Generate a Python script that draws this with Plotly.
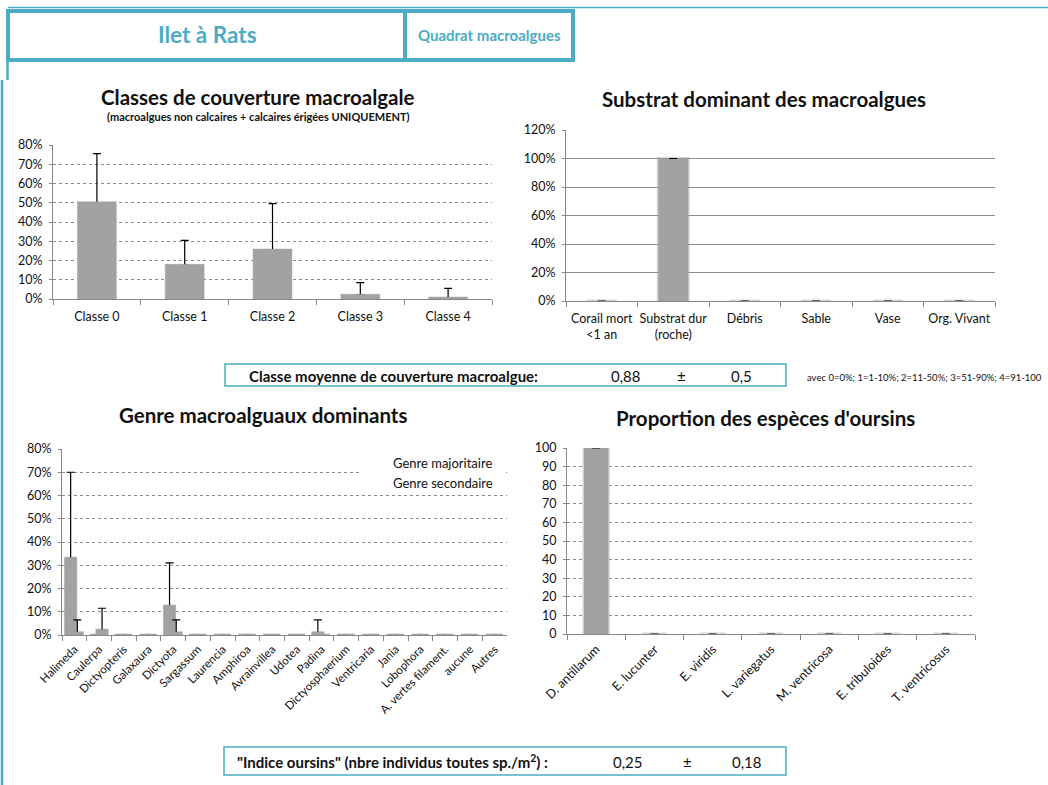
import plotly.graph_objects as go

W, H = 1048, 785

# ---------------- data ----------------
classes = ["Classe 0", "Classe 1", "Classe 2", "Classe 3", "Classe 4"]
classes_pct = [50, 17.5, 25.5, 2, 0.5]
classes_err = [25.5, 13, 24, 6.5, 5]

substrats = ["Corail mort<br>&lt;1 an", "Substrat dur<br>(roche)", "Débris", "Sable", "Vase", "Org. Vivant"]
substrats_pct = [0, 100, 0, 0, 0, 0]
substrats_err = [None, 0, None, None, None, None]

genres = ["Halimeda", "Caulerpa", "Dictyopteris", "Galaxaura", "Dictyota", "Sargassum",
          "Laurencia", "Amphiroa", "Avrainvillea", "Udotea", "Padina", "Dictyosphaerium",
          "Ventricaria", "Jania", "Lobophora", "A. vertes filament.", "aucune", "Autres"]
genre_major = [33, 0, 0, 0, 12.5, 0, 0, 0, 0, 0, 1, 0, 0, 0, 0, 0, 0, 0]
genre_major_err = [37, None, None, None, 18.5, None, None, None, None, None, 5.5,
                   None, None, None, None, None, None, None]
genre_second = [1, 2, 0, 0, 1, 0, 0, 0, 0, 0, 0, 0, 0, 0, 0, 0, 0, 0]
genre_second_err = [5.5, 9.5, None, None, 5.5, None, None, None, None, None, None,
                    None, None, None, None, None, None, None]

oursins = ["D. antillarum", "E. lucunter", "E. viridis", "L. variegatus",
           "M. ventricosa", "E. tribuloides", "T. ventricosus"]
oursins_pct = [100, 0, 0, 0, 0, 0, 0]
oursins_err = [0, None, None, None, None, None, None]

classe_moy, classe_moy_sd = "0,88", "0,5"
indice_oursins, indice_oursins_sd = "0,25", "0,18"

# ---------------- style ----------------
FONT = "Lato, 'Open Sans', sans-serif"
TEAL = "#4bacc6"
BAR = "#a2a2a2"
BAR_EDGE = "rgba(162,162,162,0.45)"
AXIS = "#878787"
GRID = "#8c8c8c"


def px(x):
    return x / W


def py(y):
    return 1 - y / H


def err(values):
    if values is None:
        return dict(visible=False)
    return dict(type="data", symmetric=False, array=values,
                arrayminus=[0 if v is not None else None for v in values],
                color="black", thickness=1.2, width=4)


def bar(x, y, e, xa, ya, width=0.42, offset=None, cover=False):
    kw = {}
    if offset is not None:
        kw["offset"] = offset
    # the "cover" pass repaints the bar body over the lower end of its error bar,
    # so only the upper whisker and cap stay visible
    line = dict(color=BAR, width=2) if cover else dict(color=BAR_EDGE, width=3)
    return go.Bar(x=x, y=y, xaxis=xa, yaxis=ya, width=width,
                  marker=dict(color=BAR, line=line),
                  error_y=err(None if cover else e), showlegend=False,
                  hoverinfo="skip" if cover else "x+y", **kw)


fig = go.Figure()
fig.add_trace(bar(classes, classes_pct, classes_err, "x", "y"))
fig.add_trace(bar(classes, classes_pct, None, "x", "y", cover=True))
fig.add_trace(bar(substrats, substrats_pct, substrats_err, "x2", "y2"))
fig.add_trace(bar(genres, genre_major, genre_major_err, "x3", "y3", offset=-0.36))
fig.add_trace(bar(genres, genre_major, None, "x3", "y3", offset=-0.36, cover=True))
fig.add_trace(bar(genres, genre_second, genre_second_err, "x3", "y3", offset=-0.09))
fig.add_trace(bar(genres, genre_second, None, "x3", "y3", offset=-0.09, cover=True))
fig.add_trace(bar(oursins, oursins_pct, oursins_err, "x5", "y5"))


def xaxis(x0, x1, anchor, angle=0, size=12.5, standoff=6):
    return dict(domain=[px(x0), px(x1)], anchor=anchor, type="category",
                showline=True, linecolor=AXIS, linewidth=1, ticks="outside",
                tickson="boundaries", ticklen=5, tickcolor=AXIS, showgrid=False,
                tickangle=angle, tickfont=dict(family=FONT, size=size, color="#111"),
                ticklabelstandoff=standoff, automargin=False, fixedrange=True)


def yaxis(y0, y1, anchor, top, step, suffix, dash="dot"):
    return dict(domain=[py(y0), py(y1)], anchor=anchor, range=[0, top],
                tick0=0, dtick=step, ticksuffix=suffix, showgrid=True,
                gridcolor=GRID, griddash=dash, gridwidth=1, zeroline=False,
                showline=True, linecolor=AXIS, linewidth=1, ticks="outside",
                ticklen=3, tickcolor=AXIS, automargin=False, ticklabelstandoff=4,
                tickfont=dict(family=FONT, size=12.5, color="#111"), fixedrange=True)


fig.update_layout(
    width=W, height=H, autosize=False,
    margin=dict(l=0, r=0, t=0, b=0, pad=0, autoexpand=False),
    paper_bgcolor="white", plot_bgcolor="white",
    barmode="overlay", showlegend=False,
    font=dict(family=FONT, color="#111"),
    xaxis=xaxis(53, 492, "y"),
    yaxis=yaxis(299, 145, "x", 80, 10, "%"),
    xaxis2=xaxis(566, 995, "y2"),
    yaxis2=yaxis(301, 130, "x2", 120, 20, "%", dash="solid"),
    xaxis3=xaxis(62, 507, "y3", angle=-45, size=11.5, standoff=2),
    yaxis3=yaxis(635, 449, "x3", 80, 10, "%"),
    xaxis5=xaxis(567, 975, "y5", angle=-45, size=12.5, standoff=2),
    yaxis5=yaxis(634, 448, "x5", 100, 10, ""),
)

shapes = []


def rect(x0, y0, x1, y1, color=TEAL, width=1.5, fill=None, layer="above"):
    shapes.append(dict(type="rect", xref="paper", yref="paper",
                       x0=px(x0), x1=px(x1), y0=py(y1), y1=py(y0),
                       line=dict(color=color, width=width),
                       fillcolor=fill, layer=layer))


def line(x0, y0, x1, y1, color=TEAL, width=1.5):
    shapes.append(dict(type="line", xref="paper", yref="paper",
                       x0=px(x0), x1=px(x1), y0=py(y0), y1=py(y1),
                       line=dict(color=color, width=width)))


# page frame and header boxes
line(8, 7.5, W, 7.5, width=1.5)
line(7.5, 60, 7.5, 80, width=2.5)
line(2, 80, 2, H, width=2.5)
rect(8, 11, 405, 60, width=4)
rect(405, 11, 573, 60, width=4)
# legend panel of the genus chart
rect(362, 457, 506, 491, color="rgba(0,0,0,0)", width=0, fill="white")
# summary boxes
rect(225, 364, 786, 386, width=1.5)
rect(224, 747, 786, 775, width=1.5)

annotations = []


def text(x, y, s, size, bold=False, color="#111", anchor="center"):
    annotations.append(dict(xref="paper", yref="paper", x=px(x), y=py(y),
                            text=f"<b>{s}</b>" if bold else s, showarrow=False,
                            xanchor=anchor, yanchor="middle",
                            font=dict(family=FONT, size=size, color=color)))


text(207, 35, "Ilet à Rats", 22.5, bold=True, color=TEAL)
text(489, 35, "Quadrat macroalgues", 15, bold=True, color=TEAL)

text(258, 97, "Classes de couverture macroalgale", 20.5, bold=True)
text(258, 117, "(macroalgues non calcaires + calcaires érigées UNIQUEMENT)", 11, bold=True)
text(764, 99, "Substrat dominant des macroalgues", 20.5, bold=True)
text(263, 415, "Genre macroalguaux dominants", 20.5, bold=True)
text(765, 418, "Proportion des espèces d'oursins", 20.5, bold=True)

text(391, 463, "Genre majoritaire", 13, anchor="left")
text(391, 483, "Genre secondaire", 13, anchor="left")

text(247, 375.5, "Classe moyenne de couverture macroalgue:", 15, bold=True, anchor="left")
text(626, 375.5, classe_moy, 15)
text(681, 375.5, "±", 15)
text(741, 375.5, classe_moy_sd, 15)
text(805, 377, "avec 0=0%; 1=1-10%; 2=11-50%; 3=51-90%; 4=91-100", 9.5, anchor="left")

text(235, 761.5, "\"Indice oursins\" (nbre individus toutes sp./m<sup>2</sup>) :", 15, bold=True, anchor="left")
text(628, 761.5, indice_oursins, 15)
text(687, 761.5, "±", 15)
text(747, 761.5, indice_oursins_sd, 15)

fig.update_layout(shapes=shapes, annotations=annotations)

page_css = ("for (const el of [document.documentElement, document.body]) {"
            "el.style.margin='0px'; el.style.padding='0px'; el.style.overflow='hidden'; }")
fig.write_html("out.html", config={"displayModeBar": False}, post_script=page_css)
